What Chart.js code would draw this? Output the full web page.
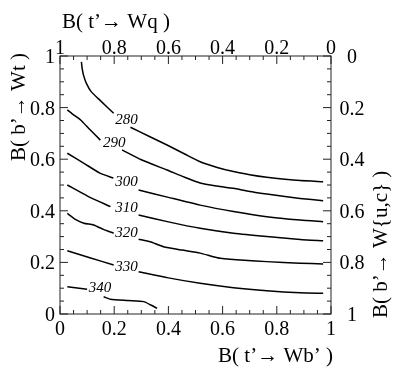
<!DOCTYPE html>
<html>
<head>
<meta charset="UTF-8">
<title>Contours</title>
<style>
  body { margin: 0; background: #fff; }
  canvas { display: block; }
</style>
</head>
<body>
<canvas id="chart" width="399" height="371"></canvas>
<script src="https://cdn.jsdelivr.net/npm/chart.js"></script>
<script>
// contour lines, [B(t'->Wb'), B(b'->Wt)], null = gap for the label
const line280 = [[0.079,0.977],[0.082,0.95],[0.087,0.925],[0.097,0.895],[0.115,0.862],[0.149,0.827],[0.198,0.778], null,
  [0.26,0.724],[0.33,0.688],[0.395,0.655],[0.46,0.62],[0.517,0.59],[0.58,0.568],[0.64,0.552],[0.70,0.54],[0.763,0.53],[0.83,0.522],[0.886,0.517],[0.971,0.513]];
const line290 = [[0.027,0.791],[0.05,0.772],[0.076,0.752],[0.11,0.715],[0.149,0.674], null,
  [0.229,0.636],[0.30,0.598],[0.395,0.558],[0.46,0.53],[0.517,0.508],[0.58,0.496],[0.64,0.487],[0.70,0.475],[0.763,0.465],[0.83,0.455],[0.886,0.448],[0.971,0.439]];
const line300 = [[0.027,0.623],[0.09,0.583],[0.149,0.545],[0.197,0.527], null,
  [0.29,0.481],[0.40,0.452],[0.517,0.422],[0.64,0.397],[0.763,0.377],[0.886,0.364],[0.971,0.358]];
const line310 = [[0.027,0.5],[0.10,0.458],[0.186,0.416], null,
  [0.29,0.384],[0.40,0.357],[0.517,0.332],[0.64,0.313],[0.763,0.3],[0.886,0.289],[0.971,0.284]];
const line320 = [[0.027,0.39],[0.055,0.368],[0.088,0.352],[0.124,0.345],[0.16,0.328],[0.198,0.313], null,
  [0.29,0.29],[0.333,0.28],[0.382,0.261],[0.45,0.248],[0.517,0.236],[0.565,0.222],[0.591,0.216],[0.68,0.208],[0.763,0.203],[0.886,0.197],[0.971,0.194]];
const line330 = [[0.027,0.245],[0.11,0.218],[0.198,0.19], null,
  [0.29,0.164],[0.40,0.14],[0.517,0.119],[0.64,0.102],[0.763,0.09],[0.886,0.082],[0.971,0.08]];
const line340 = [[0.027,0.106],[0.1,0.096], null,
  [0.161,0.067],[0.186,0.057],[0.25,0.052],[0.309,0.048],[0.335,0.035],[0.358,0.022]];

const contourLevels = ['280','290','300','310','320','330','340'];
const contourLines = [line280, line290, line300, line310, line320, line330, line340];
const labelX = [0.245, 0.2, 0.245, 0.245, 0.245, 0.245, 0.148];
const labelY = [0.752, 0.661, 0.513, 0.41, 0.313, 0.183, 0.10];

const majorTicks = [0, 0.2, 0.4, 0.6, 0.8, 1];
const bottomLabels = ['0','0.2','0.4','0.6','0.8','1'];
const topLabels = ['1','0.8','0.6','0.4','0.2','0'];
const leftLabels = ['0','0.2','0.4','0.6','0.8','1'];
const rightLabels = ['1','0.8','0.6','0.4','0.2','0'];

const titleBottom = 'B( t\u2019\u2192 Wb\u2019 )';
const titleTop = 'B( t\u2019\u2192 Wq )';
const titleLeft = 'B( b\u2019\u2192 Wt )';
const titleRight = 'B( b\u2019\u2192 W{u,c} )';

function toPoints(arr) {
  return arr.map(p => p ? { x: p[0], y: p[1] } : { x: null, y: null });
}

const datasets = contourLines.map((l, i) => ({
  label: contourLevels[i],
  data: toPoints(l),
  showLine: true,
  borderColor: '#000',
  borderWidth: 1.5,
  pointRadius: 0,
  tension: 0.2,
  spanGaps: false
}));

const serif = '"Liberation Serif", "DejaVu Serif", serif';

const framePlugin = {
  id: 'frame',
  afterDraw(chart) {
    const ctx = chart.ctx;
    const xs = chart.scales.x, ys = chart.scales.y;
    const L = xs.getPixelForValue(0), R = xs.getPixelForValue(1);
    const T = ys.getPixelForValue(1), B = ys.getPixelForValue(0);
    ctx.save();
    ctx.strokeStyle = '#222';
    ctx.lineWidth = 1;
    ctx.strokeRect(L, T, R - L, B - T);

    // inward ticks on all four sides
    ctx.beginPath();
    for (let i = 0; i <= 20; i++) {
      const v = i / 20;
      const len = (i % 4 === 0) ? 8 : 4;
      const px = xs.getPixelForValue(v), py = ys.getPixelForValue(v);
      ctx.moveTo(px, B); ctx.lineTo(px, B - len);
      ctx.moveTo(px, T); ctx.lineTo(px, T + len);
      ctx.moveTo(L, py); ctx.lineTo(L + len, py);
      ctx.moveTo(R, py); ctx.lineTo(R - len, py);
    }
    ctx.stroke();

    ctx.fillStyle = '#000';
    ctx.font = '20px ' + serif;
    ctx.textBaseline = 'alphabetic';
    majorTicks.forEach((v, i) => {
      const px = xs.getPixelForValue(v);
      ctx.textAlign = 'center';
      ctx.fillText(bottomLabels[i], px, B + 21);
      ctx.fillText(topLabels[i], px, T - 2);
      const py = ys.getPixelForValue(v);
      ctx.textAlign = 'right';
      ctx.fillText(leftLabels[i], L - 5, py + 7);
      ctx.textAlign = 'center';
      ctx.fillText(rightLabels[i], R + 21, py + 7);
    });

    // axis titles
    ctx.font = '21px ' + serif;
    ctx.textAlign = 'right';
    ctx.fillText(titleBottom, R + 2, 362);
    ctx.textAlign = 'left';
    ctx.fillText(titleTop, 62, 28);

    ctx.save();
    ctx.translate(25, 53);
    ctx.rotate(-Math.PI / 2);
    ctx.textAlign = 'right';
    ctx.fillText(titleLeft, 0, 0);
    ctx.restore();

    ctx.save();
    ctx.translate(387, 318);
    ctx.rotate(-Math.PI / 2);
    ctx.textAlign = 'left';
    ctx.fillText(titleRight, 0, 0);
    ctx.restore();

    // contour labels
    ctx.font = 'italic 15px ' + serif;
    ctx.textAlign = 'center';
    ctx.textBaseline = 'middle';
    contourLevels.forEach((t, i) => {
      ctx.fillText(t, xs.getPixelForValue(labelX[i]), ys.getPixelForValue(labelY[i]));
    });
    ctx.restore();
  }
};

new Chart(document.getElementById('chart'), {
  type: 'scatter',
  data: { datasets: datasets },
  options: {
    responsive: false,
    animation: false,
    layout: { padding: { left: 60, right: 68, top: 56, bottom: 57 } },
    scales: {
      x: { type: 'linear', min: 0, max: 1, display: false },
      y: { type: 'linear', min: 0, max: 1, display: false }
    },
    plugins: { legend: { display: false }, tooltip: { enabled: false } }
  },
  plugins: [framePlugin]
});
</script>
</body>
</html>
